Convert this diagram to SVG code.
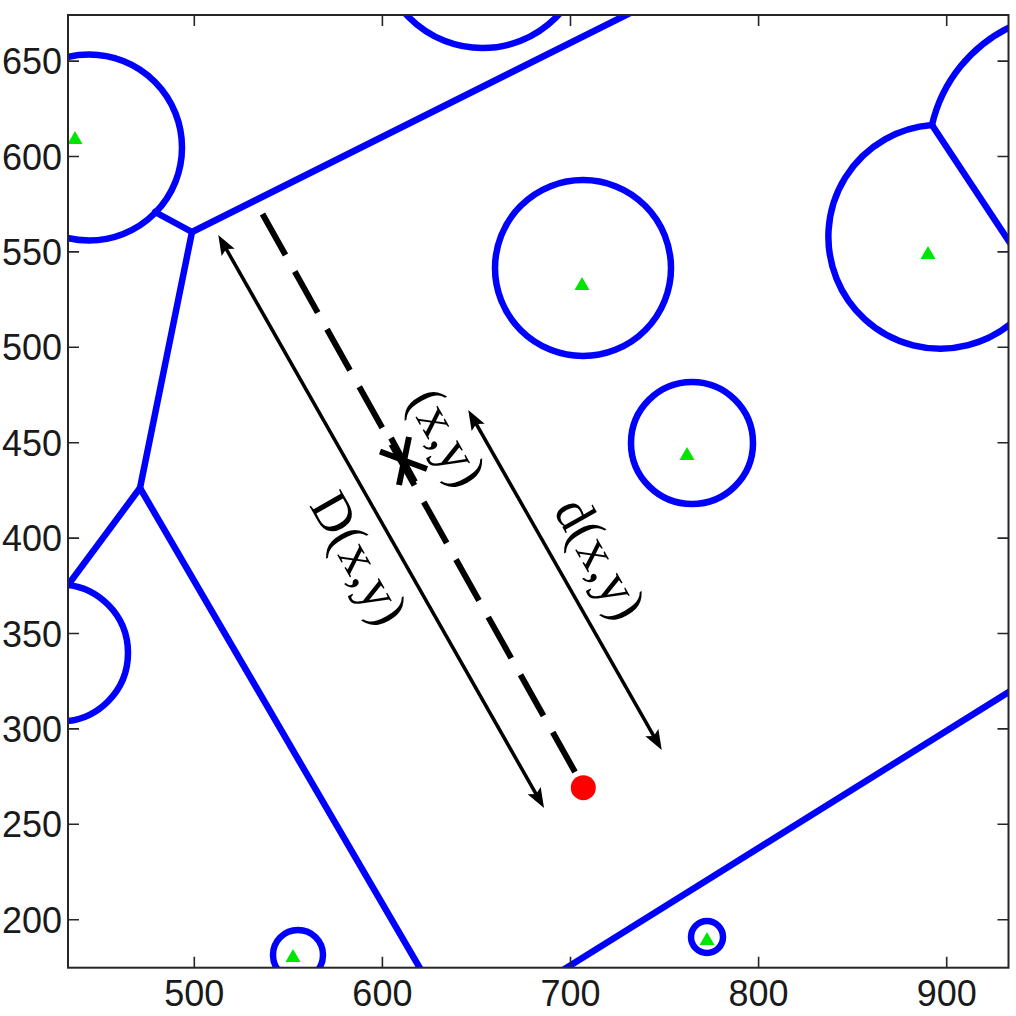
<svg xmlns="http://www.w3.org/2000/svg" width="1016" height="1016" viewBox="0 0 1016 1016">
<style>
.ax{fill:none;stroke:#262626;stroke-width:2}
.tk{stroke:#262626;stroke-width:1.6}
.tl{font-family:"Liberation Sans",Arial,sans-serif;font-size:36px;fill:#1a1a1a}
.bl{fill:none;stroke:#0000ff;stroke-width:6.5;stroke-linecap:round;stroke-linejoin:round}
.tri{fill:#00e600}
.arr{fill:none;stroke:#000;stroke-width:3.5}
.lab{font-family:"Liberation Serif","Times New Roman",serif;font-size:54px;fill:#000}
</style>
<defs>
<clipPath id="plot"><rect x="68" y="15" width="940.5" height="952.7"/></clipPath>
<marker id="ah" markerUnits="userSpaceOnUse" viewBox="-12 -9 24 18" refX="0" refY="0" markerWidth="24" markerHeight="18" orient="auto-start-reverse">
<path d="M10,0 L-10,-7.5 L-6,0 L-10,7.5 Z" fill="#000"/>
</marker>
<path id="tr" d="M0,-7 L7.5,6 L-7.5,6 Z"/>
</defs>
<rect width="1016" height="1016" fill="#fff"/>
<g id="regions" clip-path="url(#plot)">
<circle class="bl" cx="89" cy="147.5" r="93"/>
<circle class="bl" cx="59.5" cy="653" r="68.5"/>
<circle class="bl" cx="482.5" cy="-55.5" r="103.5"/>
<circle class="bl" cx="583" cy="268" r="88"/>
<circle class="bl" cx="692" cy="443" r="61"/>
<circle class="bl" cx="298" cy="955" r="25"/>
<circle class="bl" cx="707" cy="937" r="16"/>
<path class="bl" d="M1012,26.1 A145,145 0 0 0 932,125"/>
<path class="bl" d="M932,125 A112,112 0 1 0 1012,322.8"/>
<path class="bl" d="M932,125 L1012,246"/>
<path class="bl" d="M155,212 L192,232 L630,13"/>
<path class="bl" d="M192,232 L140,488 L68,585"/>
<path class="bl" d="M140,488 L421,970"/>
<path class="bl" d="M563,970 L1012,690"/>
</g>
<g id="sites">
<use href="#tr" class="tri" x="75" y="138"/>
<use href="#tr" class="tri" x="582" y="284"/>
<use href="#tr" class="tri" x="687" y="454"/>
<use href="#tr" class="tri" x="928" y="253"/>
<use href="#tr" class="tri" x="293" y="956"/>
<use href="#tr" class="tri" x="707" y="939"/>
</g>
<g id="axes">
<rect class="ax" x="68" y="15" width="940.5" height="952.7"/>
<g class="tk">
<path d="M194.3,967.7v-11M382.4,967.7v-11M570.5,967.7v-11M758.6,967.7v-11M946.7,967.7v-11"/>
<path d="M194.3,15v11M382.4,15v11M570.5,15v11M758.6,15v11M946.7,15v11"/>
<path d="M68,919.7h11M68,824.3h11M68,728.9h11M68,633.5h11M68,538.1h11M68,442.7h11M68,347.3h11M68,251.9h11M68,156.5h11M68,61.1h11"/>
<path d="M1008.5,919.7h-11M1008.5,824.3h-11M1008.5,728.9h-11M1008.5,633.5h-11M1008.5,538.1h-11M1008.5,442.7h-11M1008.5,347.3h-11M1008.5,251.9h-11M1008.5,156.5h-11M1008.5,61.1h-11"/>
</g>
<g class="tl" text-anchor="middle">
<text x="194.3" y="1006">500</text>
<text x="382.4" y="1006">600</text>
<text x="570.5" y="1006">700</text>
<text x="758.6" y="1006">800</text>
<text x="946.7" y="1006">900</text>
</g>
<g class="tl" text-anchor="end">
<text x="62" y="932.7">200</text>
<text x="62" y="837.3">250</text>
<text x="62" y="741.9">300</text>
<text x="62" y="646.5">350</text>
<text x="62" y="551.1">400</text>
<text x="62" y="455.7">450</text>
<text x="62" y="360.3">500</text>
<text x="62" y="264.9">550</text>
<text x="62" y="169.5">600</text>
<text x="62" y="74.1">650</text>
</g>
</g>
<g id="connectors">
<line class="arr" x1="223.2" y1="243.7" x2="539.1" y2="799.3" marker-start="url(#ah)" marker-end="url(#ah)"/>
<line class="arr" x1="473.2" y1="418.7" x2="656.8" y2="741.3" marker-start="url(#ah)" marker-end="url(#ah)"/>
<line x1="262.5" y1="214" x2="575" y2="772" stroke="#000" stroke-width="6" stroke-dasharray="47 19"/>
</g>
<g id="point-xy">
<g stroke="#000" stroke-width="6">
<line x1="380" y1="451.5" x2="427" y2="469"/>
<line x1="409" y1="437" x2="399" y2="485"/>
<line x1="391" y1="438" x2="415" y2="482"/>
</g>
<text class="lab" text-anchor="middle" transform="translate(432,446) rotate(60.37)">(x,y)</text>
</g>
<g id="site-point">
<circle cx="583.3" cy="787.7" r="12.5" fill="#ff0000"/>
</g>
<g id="labels">
<text class="lab" text-anchor="middle" transform="translate(344,567) rotate(60.37)">D(x,y)</text>
<text class="lab" text-anchor="middle" transform="translate(585,567) rotate(60.37)">d(x,y)</text>
</g>
</svg>
